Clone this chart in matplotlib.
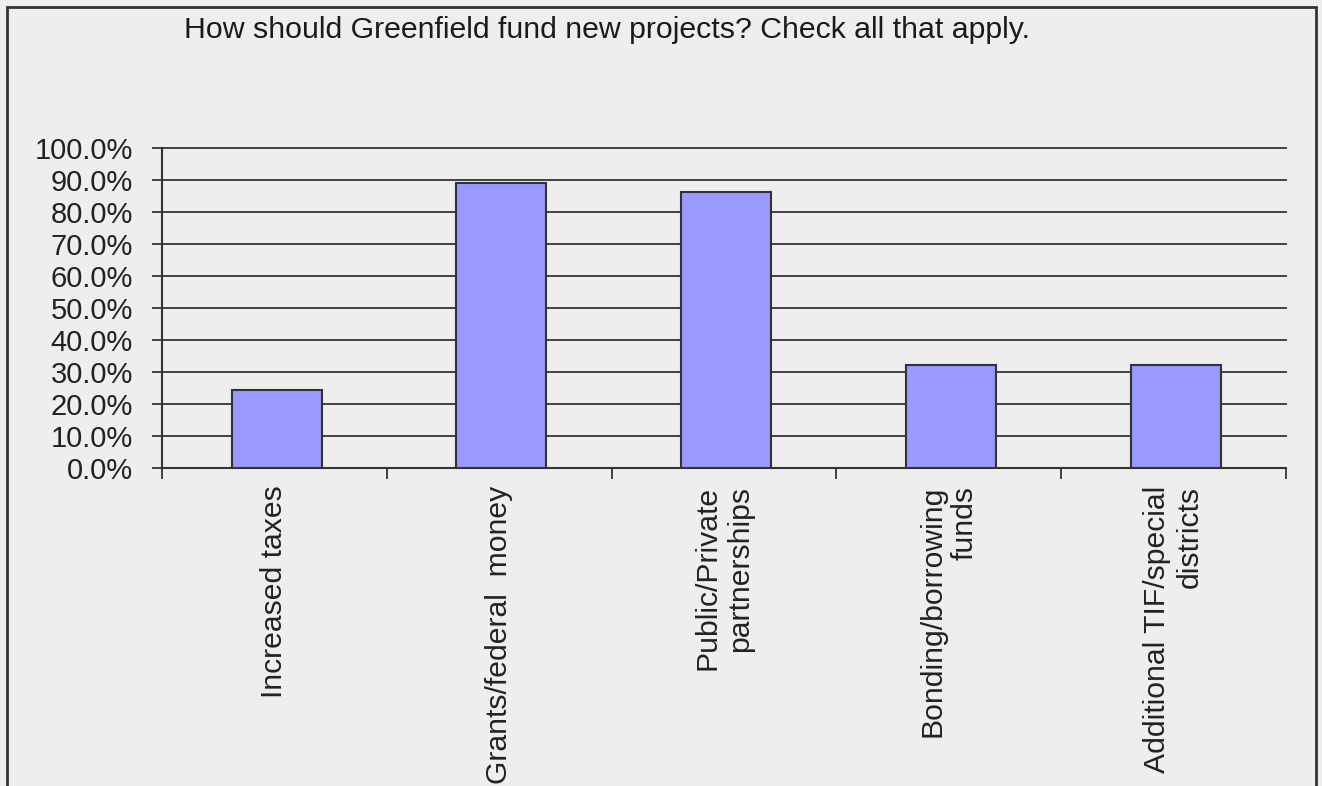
import matplotlib
matplotlib.use('Agg')
import matplotlib.pyplot as plt
from matplotlib.ticker import FuncFormatter, FixedLocator
from matplotlib.patches import Rectangle

title = "How should Greenfield fund new projects? Check all that apply."
categories = ["Increased taxes", "Grants/federal  money", "Public/Private\npartnerships",
              "Bonding/borrowing\nfunds", "Additional TIF/special\ndistricts"]
shares = [24.3, 89.2, 86.4, 32.1, 32.1]
y_ticks = [0, 10, 20, 30, 40, 50, 60, 70, 80, 90, 100]

plt.rcParams['font.family'] = ['Liberation Sans', 'DejaVu Sans']
bg = "#eeeeee"
dark = "#333333"

fig = plt.figure(figsize=(13.22, 7.86), dpi=100, facecolor=bg)
ax = fig.add_axes([0.1225, 0.405, 0.8503, 0.4063])
ax.set_facecolor(bg)

# figure border (bottom edge runs off the picture)
fig.patches.append(Rectangle((7 / 1322, -0.05), 1309 / 1322, 1.05 - 7 / 786,
                             transform=fig.transFigure, fill=False,
                             edgecolor=dark, linewidth=2))

x = [i + 0.01 for i in range(len(categories))]
ax.bar(x, shares, width=0.4, color="#9999ff", edgecolor=dark, linewidth=1.5, zorder=3)

ax.set_xlim(-0.5, len(categories) - 0.5)
ax.set_ylim(0, 100)
ax.set_yticks(y_ticks)
ax.yaxis.set_major_formatter(FuncFormatter(lambda v, p: f"{v:.1f}%"))
ax.yaxis.grid(True, color=dark, linewidth=1.3, zorder=0)
ax.set_axisbelow(True)
for gl in ax.get_ygridlines():
    gl.set_clip_on(False)

ax.xaxis.set_major_locator(FixedLocator([i - 0.5 for i in range(len(categories) + 1)]))
ax.xaxis.set_minor_locator(FixedLocator(list(range(len(categories)))))
ax.set_xticklabels([])
ax.set_xticklabels(categories, minor=True, rotation=90, fontsize=21.7, color="#222222",
                   va="top", ha="center", multialignment="right")
ax.tick_params(axis="x", which="major", direction="out", length=8, width=1.3, color=dark)
ax.tick_params(axis="x", which="minor", length=0, pad=13)
ax.tick_params(axis="y", direction="out", length=7, width=1.3, color=dark,
               labelsize=21, labelcolor="#222222", pad=14)

for s in ["top", "right"]:
    ax.spines[s].set_visible(False)
ax.spines["left"].set_color(dark)
ax.spines["left"].set_linewidth(1.5)
ax.spines["bottom"].set_color(dark)
ax.spines["bottom"].set_linewidth(1.5)

fig.text(0.459, 0.962, title, ha="center", va="center", fontsize=21.8, color="#1a1a1a")

plt.savefig("out.png", dpi=100, facecolor=bg)
